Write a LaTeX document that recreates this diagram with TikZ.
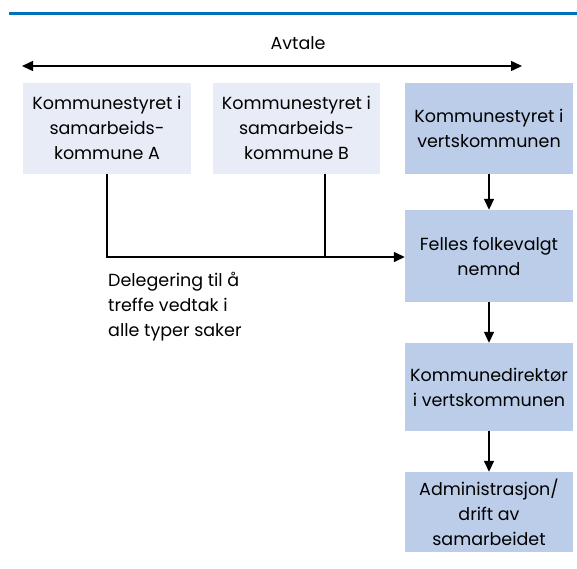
\documentclass[tikz,border=0pt]{standalone}
\usepackage{fontspec}
\setmainfont{Poppins}
\usetikzlibrary{arrows.meta}
\definecolor{lysboks}{HTML}{E8ECF7}
\definecolor{mørkboks}{HTML}{BBCDE9}
\definecolor{linjeblå}{HTML}{0070B8}
\tikzset{
  lysboks/.style={fill=lysboks, minimum width=168pt, align=center, inner sep=0pt, font=\fontsize{17.5}{25}\selectfont},
  mørkboks/.style={fill=mørkboks, minimum width=168pt, align=center, inner sep=0pt, font=\fontsize{17.5}{25}\selectfont},
  pil/.style={-{Triangle[length=11pt,width=10pt]}, line width=1.4pt}
}
\begin{document}
\begin{tikzpicture}[x=1pt, y=-1pt]
        \useasboundingbox (0,0) rectangle (577,568);
        % Top rule
        \draw[linjeblå, line width=3pt] (9,13.5) -- (577,13.5);

        % Agreement
        \node[font=\fontsize{17.5}{20}\selectfont] (avtale) at (298,43) {Avtale};
        \coordinate (avtaleV) at (22,66);
        \coordinate (avtaleH) at (522,66);
        \draw[{Triangle[length=11pt,width=10pt]}-{Triangle[length=11pt,width=10pt]}, line width=1.4pt] (avtaleV) -- (avtaleH);

        % Boxes
        \node[lysboks, minimum height=91pt] (kommA) at (107,128) {Kommunestyret i\\samarbeids-\\kommune A};
        \node[lysboks, minimum height=91pt, minimum width=167pt] (kommB) at (296.5,128) {Kommunestyret i\\samarbeids-\\kommune B};
        \node[mørkboks, minimum height=91pt] (verts) at (489,128) {Kommunestyret i\\vertskommunen};
        \node[mørkboks, minimum height=92pt] (nemnd) at (489,256) {Felles folkevalgt\\nemnd};
        \node[mørkboks, minimum height=88pt] (direktor) at (489,387) {Kommunedirektør\\i vertskommunen};
        \node[mørkboks, minimum height=80pt] (drift) at (489,512) {Administrasjon/\\drift av\\samarbeidet};

        % Delegation
        \draw[line width=1.4pt] (kommA.south) -- (107,257) -- (325,257);
        \draw[pil] (kommB.south -| 325,0) -- (325,257) -- (nemnd.west |- 0,257);
        \node[anchor=north west, align=left, inner sep=0pt, font=\fontsize{17.5}{25}\selectfont] (deleg) at (108,272) {Delegering til å\\treffe vedtak i\\alle typer saker};

        % Chain
        \draw[pil] (verts) -- (nemnd);
        \draw[pil] (nemnd) -- (direktor);
        \draw[pil] (direktor) -- (drift);
    \end{tikzpicture}
\end{document}
